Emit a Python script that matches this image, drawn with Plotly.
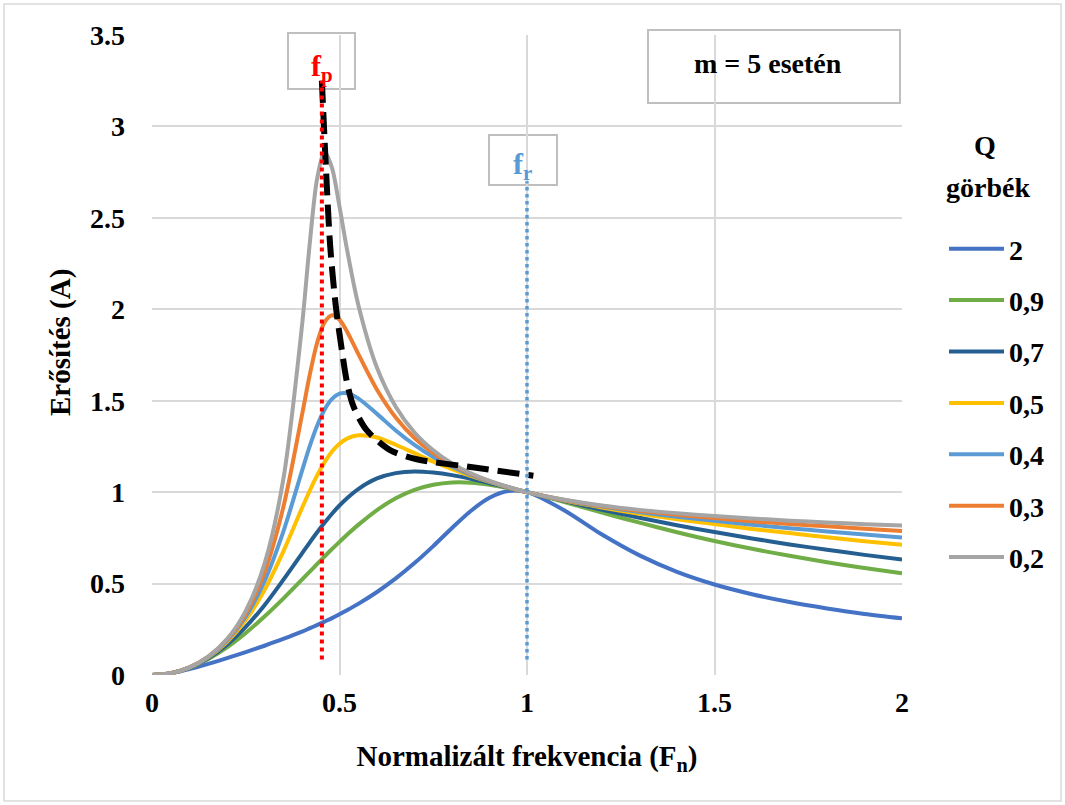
import plotly.graph_objects as go

# ---------------- data ----------------
FN = [0, 0.05, 0.1, 0.15, 0.2, 0.25, 0.3, 0.35, 0.4, 0.42, 0.44, 0.46, 0.48, 0.5,
      0.52, 0.55, 0.6, 0.65, 0.7, 0.75, 0.8, 0.85, 0.9, 0.95, 1.0,
      1.1, 1.2, 1.3, 1.4, 1.5, 1.6, 1.7, 1.8, 1.9, 2.0]

Q_LABELS = ["2", "0,9", "0,7", "0,5", "0,4", "0,3", "0,2"]

GAIN_Q2 = [0, 0.009, 0.032, 0.061, 0.092, 0.125, 0.160, 0.197, 0.237, 0.255, 0.273, 0.292, 0.311, 0.332,
           0.354, 0.389, 0.454, 0.528, 0.612, 0.705, 0.804, 0.897, 0.969, 1.006, 1.0,
           0.900, 0.768, 0.654, 0.564, 0.495, 0.442, 0.399, 0.364, 0.334, 0.310]
GAIN_Q09 = [0, 0.010, 0.039, 0.087, 0.151, 0.230, 0.320, 0.418, 0.522, 0.564, 0.606, 0.648, 0.689, 0.728,
            0.767, 0.821, 0.902, 0.966, 1.012, 1.040, 1.053, 1.052, 1.041, 1.023, 1.0,
            0.946, 0.888, 0.833, 0.781, 0.733, 0.690, 0.652, 0.617, 0.585, 0.556]
GAIN_Q07 = [0, 0.010, 0.040, 0.092, 0.166, 0.263, 0.382, 0.520, 0.665, 0.723, 0.779, 0.832, 0.882, 0.927,
            0.967, 1.017, 1.075, 1.104, 1.113, 1.107, 1.093, 1.073, 1.049, 1.025, 1.0,
            0.951, 0.904, 0.860, 0.819, 0.782, 0.747, 0.714, 0.685, 0.657, 0.631]
GAIN_Q05 = [0, 0.010, 0.041, 0.096, 0.180, 0.300, 0.465, 0.675, 0.913, 1.005, 1.090, 1.163, 1.222, 1.265,
            1.293, 1.311, 1.299, 1.259, 1.213, 1.167, 1.126, 1.089, 1.056, 1.026, 1.0,
            0.954, 0.916, 0.882, 0.852, 0.825, 0.799, 0.776, 0.753, 0.732, 0.712]
GAIN_Q04 = [0, 0.010, 0.042, 0.098, 0.187, 0.319, 0.513, 0.783, 1.116, 1.247, 1.362, 1.451, 1.510, 1.539,
            1.541, 1.513, 1.428, 1.337, 1.258, 1.192, 1.139, 1.095, 1.058, 1.027, 1.0,
            0.956, 0.921, 0.891, 0.865, 0.843, 0.822, 0.803, 0.785, 0.768, 0.752]
GAIN_Q03 = [0, 0.010, 0.042, 0.100, 0.192, 0.337, 0.562, 0.916, 1.422, 1.635, 1.814, 1.928, 1.967, 1.943,
            1.879, 1.756, 1.560, 1.408, 1.296, 1.213, 1.150, 1.100, 1.060, 1.027, 1.0,
            0.957, 0.924, 0.898, 0.876, 0.858, 0.841, 0.826, 0.813, 0.800, 0.788]
GAIN_Q02 = [0, 0.010, 0.042, 0.101, 0.196, 0.351, 0.608, 1.068, 1.910, 2.346, 2.711, 2.860, 2.773, 2.561,
            2.327, 2.025, 1.680, 1.467, 1.326, 1.229, 1.157, 1.103, 1.061, 1.028, 1.0,
            0.958, 0.927, 0.903, 0.884, 0.869, 0.856, 0.844, 0.834, 0.825, 0.817]

SERIES = [GAIN_Q2, GAIN_Q09, GAIN_Q07, GAIN_Q05, GAIN_Q04, GAIN_Q03, GAIN_Q02]
COLORS = ["#4472C4", "#70AD47", "#255E91", "#FFC000", "#5B9BD5", "#ED7D31", "#A5A5A5"]

# peak locus (black dashed)
PEAK_X = [0.453, 0.462, 0.475, 0.49, 0.506, 0.52, 0.537, 0.572, 0.635, 0.706, 0.84, 1.017]
PEAK_Y = [3.25, 2.85, 2.35, 2.02, 1.78, 1.60, 1.47, 1.34, 1.23, 1.18, 1.14, 1.09]

# marker lines fp and fr
FP_X = [0.453, 0.453]
FP_Y = [0.085, 3.25]
FR_X = [1.0, 1.0]
FR_Y = [0.085, 2.70]

X_TICKS = [0, 0.5, 1, 1.5, 2]
Y_TICKS = [0, 0.5, 1, 1.5, 2, 2.5, 3, 3.5]

# ---------------- figure ----------------
FONT = "Liberation Serif"
W, H = 1065, 805
L, R, T, B = 152, 163, 35, 130
PW, PH = W - L - R, H - T - B


def px(xp):
    return (xp - L) / PW


def py(yp):
    return (H - B - yp) / PH


fig = go.Figure()

for i, (lab, ys, col) in enumerate(zip(Q_LABELS, SERIES, COLORS)):
    fig.add_trace(go.Scatter(
        x=FN, y=ys, mode="lines", name=lab, legendgroup=lab,
        line=dict(color=col, width=4, shape="spline", smoothing=0.8),
    ))

fig.add_trace(go.Scatter(x=PEAK_X, y=PEAK_Y, mode="lines", showlegend=False,
                         line=dict(color="black", width=6, dash="22px,9px",
                                   shape="spline", smoothing=0.8)))
fig.add_trace(go.Scatter(x=FP_X, y=FP_Y, mode="lines", showlegend=False,
                         line=dict(color="#FF0000", width=4, dash="4px,4px")))
fig.add_trace(go.Scatter(x=FR_X, y=FR_Y, mode="lines", showlegend=False,
                         line=dict(color="#5B9BD5", width=3.5, dash="3.5px,3.5px")))

box_line = dict(color="#BFBFBF", width=2)
shapes = [
    dict(type="rect", xref="paper", yref="paper", x0=px(4), x1=px(1061), y0=py(801), y1=py(4),
         line=dict(color="#D9D9D9", width=1.5), layer="below"),
    dict(type="rect", xref="paper", yref="paper", x0=px(288), x1=px(355), y0=py(89), y1=py(33),
         line=box_line, fillcolor="white", layer="between"),
    dict(type="rect", xref="paper", yref="paper", x0=px(489), x1=px(557), y0=py(185), y1=py(135),
         line=box_line, fillcolor="white", layer="between"),
    dict(type="rect", xref="paper", yref="paper", x0=px(648), x1=px(900), y0=py(103), y1=py(30),
         line=box_line, fillcolor="white", layer="between"),
]

bold = dict(family=FONT, weight="bold", color="black")


def ann(text, xp, yp, font, angle=0):
    return dict(text=text, x=px(xp), y=py(yp), xref="paper", yref="paper", showarrow=False,
                xanchor="center", yanchor="middle", font=font, textangle=angle)


annotations = [
    ann("f<sub>p</sub>", 322, 68, dict(family=FONT, weight="bold", color="#FF0000", size=30)),
    ann("f<sub>r</sub>", 522, 166, dict(family=FONT, weight="bold", color="#5B9BD5", size=30)),
    ann("m = 5 esetén", 768, 64, dict(bold, size=28)),
    ann("Q", 985, 145, dict(bold, size=28)),
    ann("görbék", 988, 187, dict(bold, size=28)),
    ann("Erősítés (A)", 60, 343, dict(bold, size=29), angle=-90),
]

fig.update_layout(
    width=W, height=H,
    margin=dict(l=L, r=R, t=T, b=B, autoexpand=False),
    paper_bgcolor="white", plot_bgcolor="white",
    font=dict(family=FONT, color="black"),
    shapes=shapes, annotations=annotations,
    showlegend=True,
    legend=dict(
        x=px(944), y=py(224), xanchor="left", yanchor="top",
        font=dict(bold, size=28), traceorder="grouped", tracegroupgap=12,
        itemwidth=55, bgcolor="rgba(0,0,0,0)", borderwidth=0,
    ),
    xaxis=dict(
        range=[0, 2], tickvals=X_TICKS, showgrid=True, gridcolor="#D9D9D9", gridwidth=1.5,
        zeroline=False, showline=False, ticks="", ticklabelstandoff=8,
        tickfont=dict(bold, size=28),
        title=dict(text="Normalizált frekvencia (F<sub>n</sub>)", font=dict(bold, size=29), standoff=28),
    ),
    yaxis=dict(
        range=[0, 3.5], tickvals=Y_TICKS, showgrid=True, gridcolor="#D9D9D9", gridwidth=1.5,
        zeroline=False, showline=False, ticks="", ticklabelstandoff=26,
        tickfont=dict(bold, size=28),
    ),
)

fig.write_html("out.html", post_script="document.body.style.margin='0';",
               config={"displayModeBar": False})
